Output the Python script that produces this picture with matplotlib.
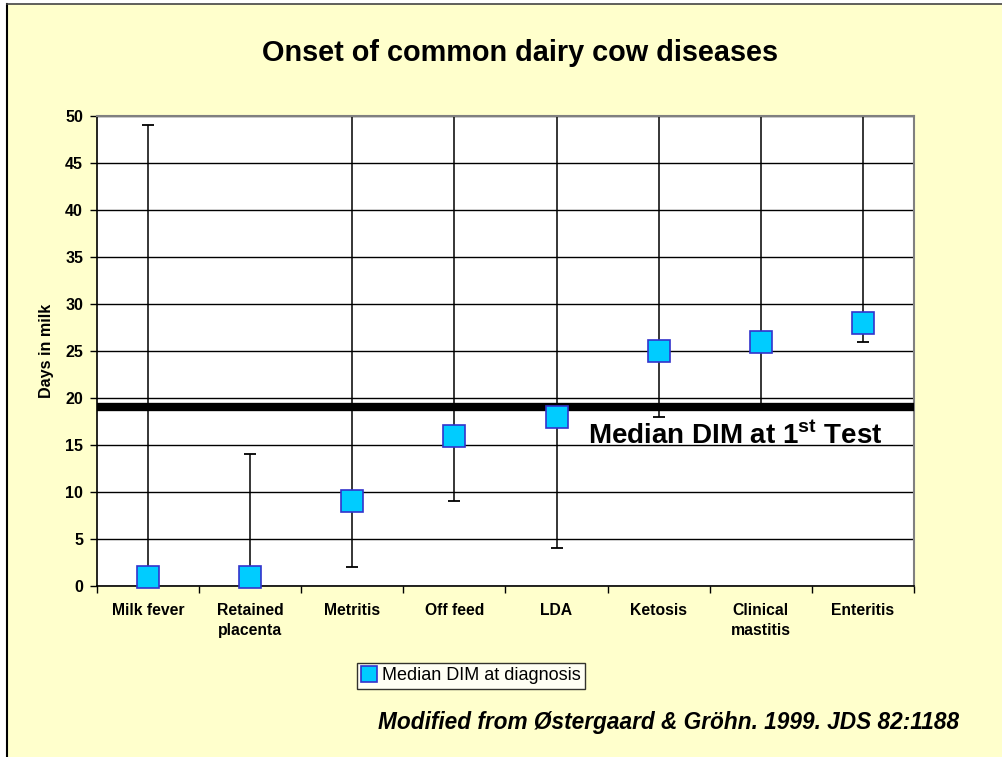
import matplotlib
matplotlib.use("Agg")
import matplotlib.pyplot as plt
import numpy as np

plt.rcParams['font.family'] = ['Liberation Sans', 'DejaVu Sans']
plt.rcParams['mathtext.fontset'] = 'custom'
plt.rcParams['mathtext.rm'] = 'Liberation Sans:bold'
plt.rcParams['mathtext.bf'] = 'Liberation Sans:bold'

categories = ["Milk fever", "Retained\nplacenta", "Metritis", "Off feed", "LDA",
              "Ketosis", "Clinical\nmastitis", "Enteritis"]
median_dim = [1, 1, 9, 16, 18, 25, 26, 28]
lower_dim = [0, 0, 2, 9, 4, 18, 19, 26]
upper_dim = [49, 14, 50, 50, 50, 50, 50, 50]
first_test_dim = 19
yticks = [0, 5, 10, 15, 20, 25, 30, 35, 40, 45, 50]

bg = '#FFFFCC'
fig = plt.figure(figsize=(10.03, 7.57), dpi=100, facecolor=bg)
ax = fig.add_axes([97/1003, 1-586/757, (914-97)/1003, (586-116)/757])
ax.set_facecolor('white')

x = np.arange(len(categories))
med = np.array(median_dim)
yerr = [med - np.array(lower_dim), np.array(upper_dim) - med]

ax.errorbar(x, med, yerr=yerr, fmt='none', ecolor='black', elinewidth=1.1,
            capsize=4.5, capthick=1.3, zorder=2, clip_on=False)
ax.axhline(first_test_dim, xmin=0, xmax=0.996, color='black', lw=6, zorder=3)
ax.plot(x, med, linestyle='none', marker='s', markersize=16,
        markerfacecolor='#00CCFF', markeredgecolor='#3333CC', markeredgewidth=1.2,
        zorder=4, clip_on=False, label='Median DIM at diagnosis')

ax.set_xlim(-0.5, len(categories) - 0.5)
ax.set_ylim(0, 50)
ax.set_yticks(yticks)
ax.set_yticklabels([str(v) for v in yticks], fontsize=11.5, fontweight='bold')
ax.yaxis.grid(True, color='black', lw=1)
ax.set_axisbelow(True)

ax.set_xticks(x)
ax.set_xticklabels(categories, fontsize=11.3, fontweight='bold', linespacing=1.45)
ax.set_xticks(np.arange(-0.5, len(categories)), minor=True)
ax.tick_params(axis='x', which='major', length=0, pad=12)
ax.tick_params(axis='x', which='minor', length=5, direction='out', width=1)
ax.tick_params(axis='y', length=5, direction='out', width=1, pad=5)

for s in ['left', 'bottom']:
    ax.spines[s].set_color('black')
    ax.spines[s].set_linewidth(1.2)
for s in ['top', 'right']:
    ax.spines[s].set_color('#808080')
    ax.spines[s].set_linewidth(1.5)

ax.set_ylabel('Days in milk', fontsize=11.6, fontweight='bold', labelpad=8)

ax.text(4.31, 16.0, r'Median DIM at 1$^{\rm st}$ Test', fontsize=20,
        fontweight='bold', ha='left', va='center', zorder=5)

fig.text(520/1003, 1-53/757, 'Onset of common dairy cow diseases', fontsize=20.8,
         fontweight='bold', ha='center', va='center')

leg = fig.legend(loc='center', bbox_to_anchor=(471/1003, 1-676/757), fontsize=13,
                 frameon=True, fancybox=False, handlelength=0.8, handletextpad=0.3,
                 borderpad=0.25, borderaxespad=0, markerscale=0.75)
leg.get_frame().set_edgecolor('black')
leg.get_frame().set_linewidth(1)

fig.text(669/1003, 1-723/757, 'Modified from \u00D8stergaard & Gr\u00F6hn. 1999. JDS 82:1188',
         fontsize=16.3, fontweight='bold', fontstyle='italic', ha='center', va='center')

# slide frame lines (left and top)
fig.add_artist(plt.Line2D([7/1003, 7/1003], [0, 1-4/757], color='black', lw=1.5,
                          transform=fig.transFigure))
fig.add_artist(plt.Line2D([7/1003, 1], [1-4/757, 1-4/757], color='#444444', lw=1.2,
                          transform=fig.transFigure))
fig.patches.append(plt.Rectangle((0, 0), 7/1003, 1, transform=fig.transFigure,
                                 facecolor='white', edgecolor='none', zorder=-1))
fig.patches.append(plt.Rectangle((0, 1-4/757), 1, 4/757, transform=fig.transFigure,
                                 facecolor='white', edgecolor='none', zorder=-1))

fig.savefig('out.png', dpi=100, facecolor=bg)
